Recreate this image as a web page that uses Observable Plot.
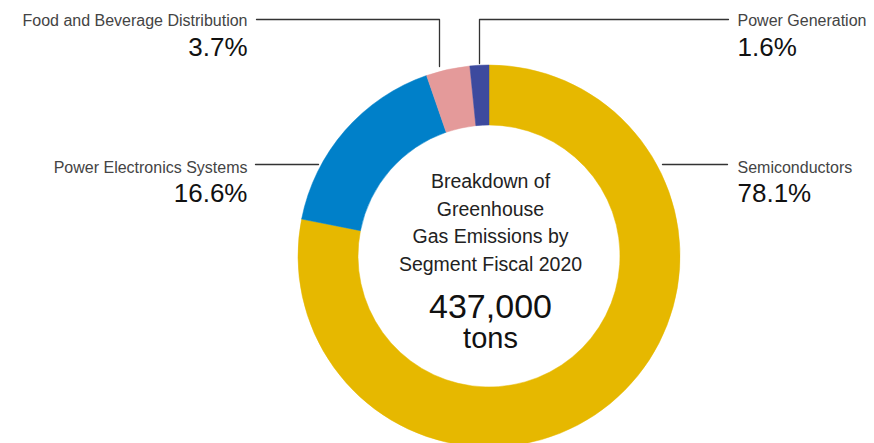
<!DOCTYPE html>
<html><head><meta charset="utf-8">
<script src="https://cdn.jsdelivr.net/npm/d3@7"></script>
<script src="https://cdn.jsdelivr.net/npm/@observablehq/plot@0.6"></script>
<style>html,body{margin:0;padding:0;background:#fff;overflow:hidden} svg{display:block}</style>
</head><body><div id="chart"></div>
<script>
// ---- data ----
const segments = ["Semiconductors", "Power Electronics Systems", "Food and Beverage Distribution", "Power Generation"];
const shares = [78.1, 16.6, 3.7, 1.6];
const percentLabels = ["78.1%", "16.6%", "3.7%", "1.6%"];
const colors = ["#e6b800", "#0080c9", "#e49a9a", "#3d4a9e"];
const centerLines = ["Breakdown of", "Greenhouse", "Gas Emissions by", "Segment Fiscal 2020"];
const totalLabel = "437,000";
const unitLabel = "tons";

// ---- layout (pixels) ----
const W = 874, H = 443;
const cx = 489, cy = 256, rOuter = 191, rInner = 131;
const labelLayout = [
  {anchor: "start", x: 737, nameY: 172, pctY: 201, leader: [[662, 164], [727, 164]]},
  {anchor: "end", x: 247, nameY: 172, pctY: 201, leader: [[255, 164], [318, 164]]},
  {anchor: "end", x: 247, nameY: 25, pctY: 55, leader: [[256, 19], [439, 19], [439, 66]]},
  {anchor: "start", x: 737, nameY: 25, pctY: 55, leader: [[728, 19], [479, 19], [479, 63]]}
];
const centerLineY = [187, 215, 242, 270];
const totalY = 317, unitY = 347;

const table = segments.map((s, i) => ({segment: s, share: shares[i], pct: percentLabels[i], color: colors[i], ...labelLayout[i]}));
const leaders = table.flatMap((d, i) => d.leader.map(([x, y]) => ({x, y, z: i})));
const arcs = d3.pie().value(d => d.share).sort(null)(table);
const leftLabels = table.filter(d => d.anchor === "end");
const rightLabels = table.filter(d => d.anchor === "start");

function donut(index, scales) {
  const g = d3.create("svg:g");
  const arc = d3.arc().innerRadius(rInner).outerRadius(rOuter);
  g.attr("transform", `translate(${scales.x(cx)},${scales.y(cy)})`);
  g.selectAll("path").data(arcs).join("path")
    .attr("d", arc)
    .attr("fill", d => d.data.color)
    .attr("stroke", d => d.data.color)
    .attr("stroke-width", 0.5);
  return g.node();
}

const font = "'Liberation Sans', Arial, Helvetica, sans-serif";
const labelMarks = (data, anchor) => [
  Plot.text(data, {x: "x", y: "nameY", text: "segment", textAnchor: anchor, lineAnchor: "bottom", fontSize: 16, fill: "#444"}),
  Plot.text(data, {x: "x", y: "pctY", text: "pct", textAnchor: anchor, lineAnchor: "bottom", fontSize: 26, fill: "#111"})
];
const chart = Plot.plot({
  width: W, height: H, margin: 0,
  x: {domain: [0, W], range: [0, W], axis: null},
  y: {domain: [0, H], range: [0, H], axis: null},
  style: {fontFamily: font, background: "#fff"},
  marks: [
    donut,
    Plot.line(leaders, {x: "x", y: "y", z: "z", stroke: "#333", strokeWidth: 1.3}),
    ...labelMarks(leftLabels, "end"),
    ...labelMarks(rightLabels, "start"),
    Plot.text(centerLines, {x: () => 490, y: (d, i) => centerLineY[i], text: d => d, lineAnchor: "bottom", fontSize: 19.5, fill: "#222"}),
    Plot.text([totalLabel], {x: () => 490, y: () => totalY, text: d => d, lineAnchor: "bottom", fontSize: 34, fill: "#111"}),
    Plot.text([unitLabel], {x: () => 490, y: () => unitY, text: d => d, lineAnchor: "bottom", fontSize: 29, fill: "#111"})
  ]
});
document.getElementById("chart").append(chart);
</script>
</body></html>
